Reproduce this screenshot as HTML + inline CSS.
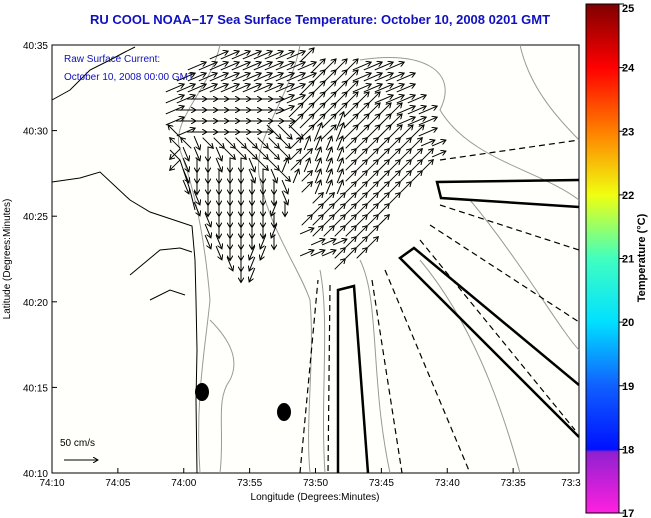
<!DOCTYPE html>
<html><head><meta charset="utf-8"><style>
body{margin:0;background:#fff;width:651px;height:518px;overflow:hidden;font-family:"Liberation Sans",sans-serif}
svg{display:block}
</style></head><body>
<svg id="chart" width="651" height="518" viewBox="0 0 651 518">
<defs>
<linearGradient id="jet" x1="0" y1="1" x2="0" y2="0">
<stop offset="0" stop-color="#ff20e0"/>
<stop offset="0.12" stop-color="#9020d0"/>
<stop offset="0.125" stop-color="#0010ff"/>
<stop offset="0.25" stop-color="#1060ff"/>
<stop offset="0.375" stop-color="#00e0ff"/>
<stop offset="0.5" stop-color="#40ffc0"/>
<stop offset="0.625" stop-color="#f0ff10"/>
<stop offset="0.75" stop-color="#ff8000"/>
<stop offset="0.875" stop-color="#ff0000"/>
<stop offset="1" stop-color="#800000"/>
</linearGradient>
<marker id="ah" markerWidth="6" markerHeight="6" refX="5" refY="3" orient="auto" markerUnits="userSpaceOnUse"><path d="M0,0 L5,3 L0,6" fill="none" stroke="#000" stroke-width="1"/></marker>
</defs>
<text x="320" y="24" text-anchor="middle" font-size="13" font-weight="bold" fill="#1010c0">RU COOL  NOAA−17  Sea Surface Temperature:  October 10, 2008 0201 GMT</text>
<rect x="52" y="45" width="527" height="428" fill="#fffffb" stroke="#000" stroke-width="1"/>
<g id="bathy" fill="none" stroke="#999" stroke-width="1">
<path d="M220,45 C210,90 170,120 180,150 C195,190 205,240 210,300 C205,350 195,400 200,473"/>
<path d="M300,45 C290,100 250,140 260,180 C270,230 300,270 310,300 C315,360 305,420 310,473"/>
<path d="M320,270 C330,320 320,400 325,473"/>
<path d="M360,260 C380,300 370,380 390,473"/>
<path d="M420,260 C470,320 500,400 520,473"/>
<path d="M470,200 C520,260 560,330 579,350"/>
<path d="M520,45 C530,90 560,120 579,140"/>
<path d="M360,60 C420,50 460,70 440,110 C470,160 540,170 579,200"/>
<path d="M210,320 C230,340 240,360 230,380 C215,400 225,430 220,473"/>
</g>
<g id="coast" fill="none" stroke="#000" stroke-width="1">
<path d="M52,100 L70,90 L80,80 L90,70 L110,60 L125,52 L135,47"/>
<path d="M52,182 L80,178 L100,172 L130,200 L150,212 L180,222 L192,226 L195,260 L196,300 L197,350 L196,400 L197,473"/>
<path d="M130,275 L160,250 L180,248 L192,252"/>
<path d="M150,300 L170,290 L185,295"/>
<path d="M170,150 L180,160 L190,190 L195,210"/>
</g>
<text x="64" y="62" font-size="10" fill="#1010c0">Raw Surface Current:</text>
<text x="64" y="80" font-size="10" fill="#1010c0">October 10, 2008 00:00 GMT</text>
<g id="arrows" stroke="#000" stroke-width="1" fill="none"></g>
<g id="features" fill="none" stroke="#000">
<path d="M338,473 L338,290 L354,286 L368,473" stroke-width="2.5"/>
<path d="M579,437 L400,258 L414,248 L579,385" stroke-width="2.5"/>
<path d="M579,180 L437,182 L441,198 L579,207" stroke-width="2.5"/>
<g stroke-dasharray="6,4" stroke-width="1.2">
<path d="M300,473 L318,280"/>
<path d="M372,280 L402,473"/>
<path d="M385,270 L470,473"/>
<path d="M420,240 L575,430"/>
<path d="M430,225 L579,322"/>
<path d="M440,205 L579,250"/>
<path d="M440,160 L579,140"/>
<path d="M330,285 L328,473"/>
</g>
<ellipse cx="202" cy="392" rx="7" ry="9" fill="#000" stroke="none"/>
<ellipse cx="284" cy="412" rx="7" ry="9" fill="#000" stroke="none"/>
</g>
<text x="60" y="446" font-size="10" fill="#000">50 cm/s</text>
<line x1="64" y1="460" x2="98" y2="460" stroke="#000" marker-end="url(#ah)"/>
<g id="xaxis" font-size="10" text-anchor="middle"></g>
<g id="yaxis" font-size="10" text-anchor="end"></g>
<text x="315" y="500" font-size="10" text-anchor="middle">Longitude (Degrees:Minutes)</text>
<text transform="translate(10,259) rotate(-90)" font-size="10" text-anchor="middle">Latitude (Degrees:Minutes)</text>
<rect x="586" y="4" width="33" height="509" fill="url(#jet)" stroke="#000"/>
<g id="cbar" font-size="11" font-weight="bold"></g>
<text transform="translate(645,258) rotate(-90)" font-size="11" font-weight="bold" text-anchor="middle">Temperature (°C)</text>
</svg>
<script>
const xTicks=["74:10","74:05","74:00","73:55","73:50","73:45","73:40","73:35","73:3"];
const yTicks=["40:35","40:30","40:25","40:20","40:15","40:10"];
const cTicks=[25,24,23,22,21,20,19,18,17];
// direction codes (compass): 0=N 1=NE 2=E 3=SE 4=S 5=SW 6=W 7=NW a=NNE b=ENE c=SSE d=SSW '.'=none
const vecRows=[
"....bbbbbbbb1............",
"..bbbbbbbbbbb1111bbbb....",
".bbbbbbbbbbbb1111bbbbb...",
"bbbbbbbbbbbb11111bbbbb...",
"bb22222222bb1111111bbbb..",
"b222222222b1111111111bbb.",
"b22222222221111a11111bbb.",
"7b22222223331a1a1111111b.",
"77c333333331aaaa1111111bb",
"5cc4c33333311aaa11111111b",
"5c44c44c33a1aaaa11111111.",
".c44444c4c3a1aaa1111111..",
".c44444444c.1aaa111111...",
"..c4444444c..11111111....",
"..c444444d4..1111111.....",
"...c444444..11111111.....",
"...c44444d..b111111......",
"...cc444d4...bbb111......",
"....c44dd...bbb111.......",
".....c4d.......1.........",
"......4d................."];
const NS="http://www.w3.org/2000/svg";
const X0=52,X1=579,Y0=45,Y1=473;
const xs=i=>X0+i*(X1-X0)/(xTicks.length-1);
const ys=i=>Y0+i*(Y1-Y0)/(yTicks.length-1);
const cs=v=>4+(25-v)*(509/8);
const xa=document.getElementById('xaxis');
xTicks.forEach((t,i)=>{
 const l=document.createElementNS(NS,'line');l.setAttribute('x1',xs(i));l.setAttribute('x2',xs(i));l.setAttribute('y1',Y1);l.setAttribute('y2',Y1-5);l.setAttribute('stroke','#000');
 
 
 xa.appendChild(l);
 const tx=document.createElementNS(NS,'text');tx.setAttribute('x',Math.min(xs(i),571));tx.setAttribute('y',486);tx.textContent=t;
 
 
 xa.appendChild(tx);
});
const ya=document.getElementById('yaxis');
yTicks.forEach((t,i)=>{
 const l=document.createElementNS(NS,'line');l.setAttribute('x1',X0);l.setAttribute('x2',X0+5);l.setAttribute('y1',ys(i));l.setAttribute('y2',ys(i));l.setAttribute('stroke','#000');
 
 
 ya.appendChild(l);
 const tx=document.createElementNS(NS,'text');tx.setAttribute('x',X0-4);tx.setAttribute('y',ys(i)+4);tx.textContent=t;
 
 
 ya.appendChild(tx);
});
const cb=document.getElementById('cbar');
cTicks.forEach(v=>{
 const l=document.createElementNS(NS,'line');l.setAttribute('x1',619);l.setAttribute('x2',624);l.setAttribute('y1',cs(v));l.setAttribute('y2',cs(v));l.setAttribute('stroke','#000');
 
 
 cb.appendChild(l);
 const tx=document.createElementNS(NS,'text');tx.setAttribute('x',622);tx.setAttribute('y',Math.min(Math.max(cs(v)+4,12),517));tx.textContent=v;
 
 
 cb.appendChild(tx);
});
const ag=document.getElementById('arrows');
const ang={'0':0,'1':45,'2':90,'3':135,'4':180,'5':225,'6':270,'7':315,'a':22,'b':67,'c':157,'d':202};
vecRows.forEach((row,r)=>{
 [...row].forEach((c,k)=>{
  if(c==='.')return;
  const t=ang[c]*Math.PI/180;const dx=Math.sin(t),dy=-Math.cos(t);
  const cx=175+k*11,cy=55+r*11,L=(r<8?20:15);
  const a=document.createElementNS(NS,'line');
  a.setAttribute('x1',cx-dx*L/2);a.setAttribute('y1',cy-dy*L/2);a.setAttribute('x2',cx+dx*L/2);a.setAttribute('y2',cy+dy*L/2);
  a.setAttribute('marker-end','url(#ah)');
  
  
  ag.appendChild(a);
 });
});
</script>
</body></html>
